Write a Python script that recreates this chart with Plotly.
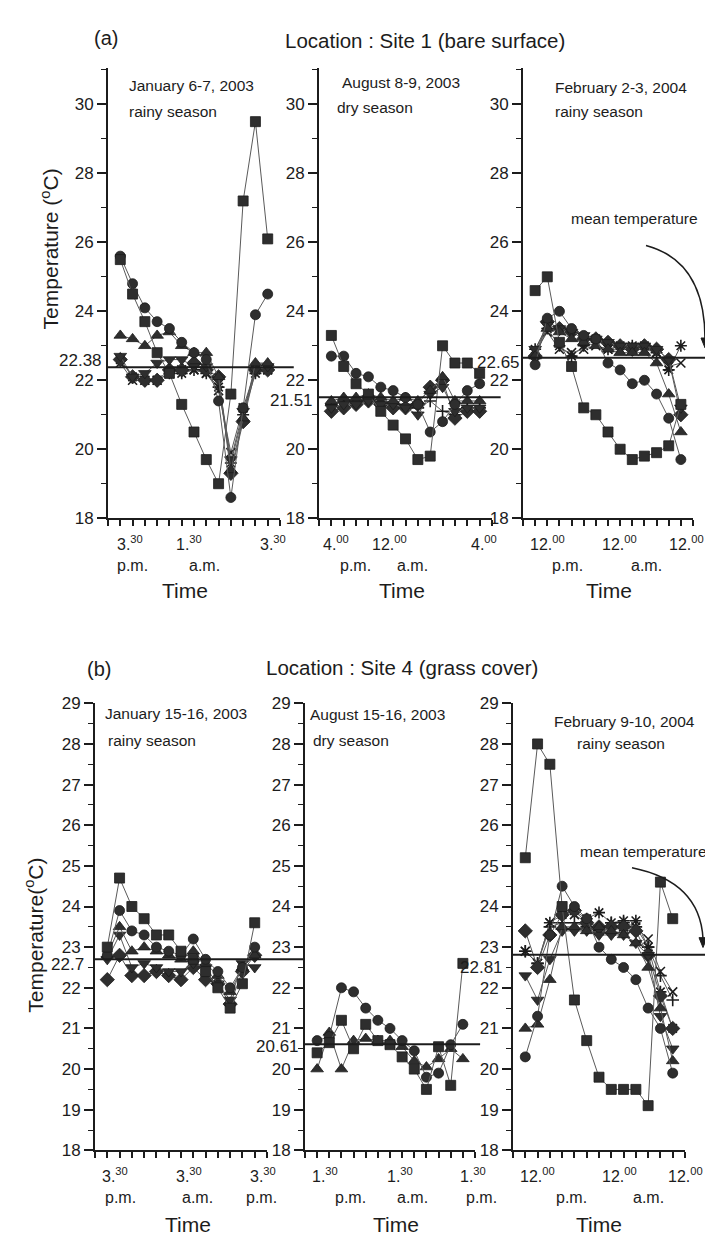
import plotly.graph_objects as go

# ---------------- data (hours after first reading, 2-h interval) ----------------
HOURS = [0, 2, 4, 6, 8, 10, 12, 14, 16, 18, 20, 22, 24]

# (a) Site 1 - January 6-7, 2003
A1_SQUARE = [25.5, 24.5, 23.7, 22.8, 22.2, 21.3, 20.5, 19.7, 19.0, 21.6, 27.2, 29.5, 26.1]
A1_CIRCLE = [25.6, 24.8, 24.1, 23.7, 23.5, 23.1, 22.8, 22.6, 21.4, 18.6, 21.2, 23.9, 24.5]
A1_TRI_UP = [23.3, 23.2, 23.0, 23.3, 23.4, 23.0, 22.8, 22.8, 22.1, 19.4, 20.9, 22.5, 22.5]
A1_TRI_DOWN = [22.7, 22.1, 22.2, 22.5, 22.6, 22.6, 22.4, 22.4, 22.0, 19.7, 21.1, 22.3, 22.4]
A1_DIAMOND = [22.6, 22.1, 22.0, 22.0, 22.3, 22.3, 22.5, 22.3, 22.1, 19.3, 20.8, 22.3, 22.3]
A1_ASTERISK = [22.6, 22.1, 22.0, 22.0, 22.2, 22.2, 22.3, 22.2, 21.8, 19.6, 21.0, 22.2, 22.3]
A1_CROSS = [22.5, 22.0, 22.0, 22.0, 22.2, 22.3, 22.3, 22.2, 21.7, 19.9, 21.2, 22.3, 22.3]
A1_MEAN = 22.38

# (a) Site 1 - August 8-9, 2003
A2_SQUARE = [23.3, 22.4, 21.9, 21.6, 21.1, 20.7, 20.3, 19.7, 19.8, 23.0, 22.5, 22.5, 22.2]
A2_CIRCLE = [22.7, 22.7, 22.2, 22.1, 21.8, 21.7, 21.5, 21.3, 20.5, 20.8, 21.3, 21.7, 21.9]
A2_TRI_UP = [21.4, 21.5, 21.5, 21.6, 21.5, 21.4, 21.5, 21.4, 21.7, 22.1, 21.4, 21.4, 21.4]
A2_TRI_DOWN = [21.2, 21.3, 21.3, 21.4, 21.3, 21.3, 21.2, 21.0, 21.6, 21.8, 21.1, 21.2, 21.2]
A2_DIAMOND = [21.1, 21.2, 21.3, 21.4, 21.3, 21.2, 21.2, 21.3, 21.8, 22.0, 20.9, 21.1, 21.1]
A2_PLUS = [21.3, 21.4, 21.4, 21.4, 21.3, 21.3, 21.3, 21.2, 21.4, 21.1, 21.0, 21.2, 21.2]
A2_MEAN = 21.51

# (a) Site 1 - February 2-3, 2004
A3_SQUARE = [24.6, 25.0, 23.1, 22.4, 21.2, 21.0, 20.5, 20.0, 19.7, 19.8, 19.9, 20.1, 21.3]
A3_CIRCLE = [22.45, 23.8, 24.0, 23.5, 23.3, 23.2, 22.5, 22.3, 21.9, 22.0, 21.6, 20.9, 19.7]
A3_TRI_UP = [22.7, 23.5, 23.4, 23.2, 23.1, 23.0, 22.9, 22.8, 22.8, 22.8, 22.5, 21.6, 20.5]
A3_TRI_DOWN = [22.9, 23.6, 23.5, 23.4, 23.3, 23.2, 23.1, 23.0, 23.0, 23.0, 22.9, 22.6, 21.2]
A3_DIAMOND = [22.7, 23.7, 23.5, 23.4, 23.2, 23.2, 23.1, 23.0, 22.9, 23.0, 22.9, 22.6, 21.0]
A3_ASTERISK = [22.9, 23.5, 23.0, 22.7, 23.0, 23.2, 22.9, 23.0, 23.0, 23.0, 22.8, 22.3, 23.0]
A3_CROSS = [22.8, 23.4, 22.9, 22.8, 22.9, 23.0, 22.9, 22.9, 22.9, 22.9, 22.8, 22.4, 22.5]
A3_MEAN = 22.65

# (b) Site 4 - January 15-16, 2003
B1_SQUARE = [23.0, 24.7, 24.0, 23.7, 23.3, 23.3, 22.9, 22.7, 22.4, 22.0, 21.5, 22.1, 23.6]
B1_CIRCLE = [22.8, 23.9, 23.4, 23.3, 23.0, 22.9, 22.8, 23.2, 22.7, 22.4, 22.0, 22.5, 23.0]
B1_TRI_UP = [22.8, 23.5, 22.9, 23.0, 22.9, 22.8, 22.7, 22.9, 22.6, 22.3, 21.9, 22.5, 22.8]
B1_TRI_DOWN = [22.7, 23.3, 22.5, 22.6, 22.5, 22.4, 22.4, 22.6, 22.5, 22.1, 21.7, 22.6, 22.5]
B1_DIAMOND = [22.2, 22.8, 22.3, 22.3, 22.4, 22.3, 22.2, 22.5, 22.2, 22.1, 21.6, 22.4, 22.8]
B1_MEAN = 22.7

# (b) Site 4 - August 15-16, 2003
B2_SQUARE = [20.4, 20.65, 21.2, 20.5, 21.1, 20.7, 20.6, 20.3, 20.0, 19.5, 20.55, 19.6, 22.6]
B2_CIRCLE = [20.7, 20.8, 22.0, 21.9, 21.5, 21.2, 21.0, 20.7, 20.45, 19.8, 19.9, 20.6, 21.1]
B2_TRI_UP = [20.0, 20.9, 20.0, 20.7, 20.75, 20.7, 20.7, 20.55, 20.2, 20.05, 20.25, 20.5, 20.25]
B2_MEAN = 20.61

# (b) Site 4 - February 9-10, 2004
B3_SQUARE = [25.2, 28.0, 27.5, 24.0, 21.7, 20.7, 19.8, 19.5, 19.5, 19.5, 19.1, 24.6, 23.7]
B3_CIRCLE = [20.3, 21.3, 23.3, 24.5, 24.0, 23.7, 23.0, 22.7, 22.5, 22.2, 21.5, 21.0, 19.9]
B3_TRI_UP = [21.0, 21.1, 22.2, 23.5, 23.5, 23.4, 23.5, 23.4, 23.3, 23.1, 22.5, 21.5, 20.2]
B3_TRI_DOWN = [22.3, 21.7, 22.7, 23.4, 23.4, 23.4, 23.3, 23.3, 23.3, 23.1, 22.8, 21.3, 20.5]
B3_DIAMOND = [23.4, 22.5, 23.3, 23.8, 23.9, 23.6, 23.5, 23.5, 23.5, 23.4, 22.8, 21.8, 21.0]
B3_ASTERISK = [22.9, 22.6, 23.6, 23.8, 23.9, 23.7, 23.85, 23.6, 23.65, 23.65, 23.0, 21.9, 21.0]
B3_CROSS = [22.9, 22.6, 23.6, 23.9, 23.8, 23.6, 23.4, 23.4, 23.5, 23.5, 23.2, 22.4, 21.9]
B3_PLUS = [22.9, 22.6, 23.5, 23.6, 23.6, 23.5, 23.4, 23.6, 23.6, 23.5, 23.0, 22.3, 21.7]
B3_MEAN = 22.81

MEAN_LABELS = ["22.38", "21.51", "22.65", "22.7", "20.61", "22.81"]
PANEL_DATES = [
    ("January 6-7, 2003", "rainy season"),
    ("August 8-9, 2003", "dry season"),
    ("February 2-3, 2004", "rainy season"),
    ("January 15-16, 2003", "rainy season"),
    ("August 15-16, 2003", "dry season"),
    ("February 9-10, 2004", "rainy season"),
]

# ---------------- styling / layout ----------------
W, H = 713, 1239
FONT = "Arial, 'Liberation Sans', Helvetica, sans-serif"
INK = "#1c1c1c"
LINE_GRAY = "#5a5a5a"
FILL = "#2e2e2e"


def fx(p):
    return p / W


def fy(p):
    return 1 - p / H


STYLE = {
    "square": dict(symbol="square", size=10),
    "circle": dict(symbol="circle", size=10),
    "triangle-up": dict(symbol="triangle-up", size=11),
    "triangle-down": dict(symbol="triangle-down", size=11),
    "diamond": dict(symbol="diamond", size=11),
    "asterisk-open": dict(symbol="asterisk-open", size=10),
    "x-thin-open": dict(symbol="x-thin-open", size=9),
    "cross-thin-open": dict(symbol="cross-thin-open", size=9),
}

PANEL_SERIES = [
    [(A1_ASTERISK, "asterisk-open"), (A1_CROSS, "x-thin-open"), (A1_DIAMOND, "diamond"),
     (A1_TRI_DOWN, "triangle-down"), (A1_TRI_UP, "triangle-up"), (A1_CIRCLE, "circle"),
     (A1_SQUARE, "square")],
    [(A2_PLUS, "cross-thin-open"), (A2_DIAMOND, "diamond"), (A2_TRI_DOWN, "triangle-down"),
     (A2_TRI_UP, "triangle-up"), (A2_CIRCLE, "circle"), (A2_SQUARE, "square")],
    [(A3_ASTERISK, "asterisk-open"), (A3_CROSS, "x-thin-open"), (A3_DIAMOND, "diamond"),
     (A3_TRI_DOWN, "triangle-down"), (A3_TRI_UP, "triangle-up"), (A3_CIRCLE, "circle"),
     (A3_SQUARE, "square")],
    [(B1_DIAMOND, "diamond"), (B1_TRI_DOWN, "triangle-down"), (B1_TRI_UP, "triangle-up"),
     (B1_CIRCLE, "circle"), (B1_SQUARE, "square")],
    [(B2_TRI_UP, "triangle-up"), (B2_CIRCLE, "circle"), (B2_SQUARE, "square")],
    [(B3_PLUS, "cross-thin-open"), (B3_CROSS, "x-thin-open"), (B3_ASTERISK, "asterisk-open"),
     (B3_DIAMOND, "diamond"), (B3_TRI_DOWN, "triangle-down"), (B3_TRI_UP, "triangle-up"),
     (B3_CIRCLE, "circle"), (B3_SQUARE, "square")],
]
MEANS = [A1_MEAN, A2_MEAN, A3_MEAN, B1_MEAN, B2_MEAN, B3_MEAN]

# geometry of each panel in pixels
PANELS = [
    dict(xd=(100, 272), yd=(52, 509), yr=[18, 31.05], dt=2, mdt=1, mean_ext=1.08, lab_r=96, lab_shift=7,
         txt=((119, 70), (119, 96))),
    dict(xd=(311, 484), yd=(52, 509), yr=[18, 31.05], dt=2, mdt=1, mean_ext=1.05, lab_r=307, lab_shift=-3,
         txt=((332, 67), (327, 92))),
    dict(xd=(515, 685), yd=(52, 509), yr=[18, 31.05], dt=2, mdt=1, mean_ext=1.11, lab_r=514, lab_shift=-5,
         txt=((545, 72), (545, 96))),
    dict(xd=(87, 259), yd=(697, 1151), yr=[18, 29], dt=1, mdt=0.5, mean_ext=1.22, lab_r=78, lab_shift=-5,
         txt=((95, 707), (98, 735))),
    dict(xd=(297, 467), yd=(697, 1151), yr=[18, 29], dt=1, mdt=0.5, mean_ext=1.03, lab_r=293, lab_shift=-2,
         txt=((300, 708), (303, 735))),
    dict(xd=(505, 677), yd=(697, 1151), yr=[18, 29], dt=1, mdt=0.5, mean_ext=1.21, lab_r=497, lab_shift=-13,
         txt=((544, 715), (567, 738))),
]

fig = go.Figure()
layout = dict(
    width=W, height=H,
    margin=dict(l=0, r=0, t=0, b=0),
    paper_bgcolor="white", plot_bgcolor="rgba(0,0,0,0)",
    showlegend=False,
    font=dict(family=FONT, color=INK, size=16),
)
annotations = []
shapes = []

for i, (p, series) in enumerate(zip(PANELS, PANEL_SERIES)):
    n = "" if i == 0 else str(i + 1)
    xa, ya = "x" + n, "y" + n
    for vals, sym in series:
        st = STYLE[sym]
        is_open = sym.endswith("open")
        fig.add_trace(go.Scatter(
            x=HOURS, y=vals, mode="lines+markers", xaxis=xa, yaxis=ya,
            line=dict(color=LINE_GRAY, width=1),
            marker=dict(symbol=st["symbol"], size=st["size"],
                        color=INK if is_open else FILL,
                        line=dict(color=INK, width=1.6 if is_open else 0.8)),
            cliponaxis=False, hoverinfo="skip",
        ))
    layout["xaxis" + n] = dict(
        domain=[fx(p["xd"][0]), fx(p["xd"][1])], anchor=ya, range=[-2, 26],
        tickmode="array", tickvals=[-2, 0, 2, 4, 6, 8, 10, 12, 14, 16, 18, 20, 22, 24, 26],
        showticklabels=False, ticks="outside", ticklen=6, tickwidth=1.5, tickcolor=INK,
        showline=True, linewidth=2, linecolor=INK, showgrid=False, zeroline=False,
    )
    layout["yaxis" + n] = dict(
        domain=[fy(p["yd"][1]), fy(p["yd"][0])], anchor=xa, range=p["yr"],
        tick0=18, dtick=p["dt"], ticks="outside", ticklen=9, tickwidth=1.5, tickcolor=INK,
        minor=dict(dtick=p["mdt"], tick0=18, ticks="outside", ticklen=5, tickwidth=1.2, tickcolor=INK),
        showline=True, linewidth=2, linecolor=INK, showgrid=False, zeroline=False,
        tickfont=dict(size=17, family=FONT, color=INK),
    )
    # mean temperature line
    shapes.append(dict(type="line", xref=xa + " domain", yref=ya, x0=0, x1=p["mean_ext"],
                       y0=MEANS[i], y1=MEANS[i], line=dict(color=INK, width=2)))
    annotations.append(dict(xref="paper", yref=ya, x=fx(p["lab_r"]), y=MEANS[i], yshift=p["lab_shift"],
                            text=MEAN_LABELS[i], showarrow=False, xanchor="right", yanchor="middle",
                            font=dict(size=17, color=INK, family=FONT)))
    # date / season text
    (t1x, t1y), (t2x, t2y) = p["txt"]
    annotations.append(dict(xref="paper", yref="paper", x=fx(t1x), y=fy(t1y), text=PANEL_DATES[i][0],
                            showarrow=False, xanchor="left", yanchor="middle",
                            font=dict(size=15.5, color=INK, family=FONT)))
    annotations.append(dict(xref="paper", yref="paper", x=fx(t2x), y=fy(t2y), text=PANEL_DATES[i][1],
                            showarrow=False, xanchor="left", yanchor="middle",
                            font=dict(size=15.5, color=INK, family=FONT)))


def label(x, y, text, size, anchor="center", angle=0):
    annotations.append(dict(xref="paper", yref="paper", x=fx(x), y=fy(y), text=text, showarrow=False,
                            xanchor=anchor, yanchor="middle", textangle=angle,
                            font=dict(size=size, color=INK, family=FONT)))


# titles
label(98, 21, "(a)", 20)
label(417, 24, "Location : Site 1 (bare surface)", 20.5)
label(91, 662, "(b)", 20)
label(394, 661, "Location : Site 4 (grass cover)", 20.5)
label(42, 236, "Temperature (<sup>o</sup>C)", 21, angle=-90)
label(26, 933, "Temperature(<sup>o</sup>C)", 21, angle=-90)

# time tick labels
TOP_TICKS = [("3.<sup>30</sup>", 122), ("1.<sup>30</sup>", 181), ("3.<sup>30</sup>", 265),
             ("4.<sup>00</sup>", 328), ("12.<sup>00</sup>", 381), ("4.<sup>00</sup>", 476),
             ("12.<sup>00</sup>", 539), ("12.<sup>00</sup>", 611), ("12.<sup>00</sup>", 678)]
for t, x in TOP_TICKS:
    label(x, 534, t, 16)
for t, x in [("p.m.", 124), ("a.m.", 196), ("p.m.", 347), ("a.m.", 404), ("p.m.", 559), ("a.m.", 638)]:
    label(x, 557, t, 16)
for x in [177, 394, 601]:
    label(x, 582, "Time", 21)

BOT_TICKS = [("3.<sup>30</sup>", 107), ("3.<sup>30</sup>", 181), ("3.<sup>30</sup>", 255),
             ("1.<sup>30</sup>", 317), ("1.<sup>30</sup>", 392), ("1.<sup>30</sup>", 465),
             ("12.<sup>00</sup>", 529), ("12.<sup>00</sup>", 611), ("12.<sup>00</sup>", 677)]
for t, x in BOT_TICKS:
    label(x, 1176, t, 16)
for t, x in [("p.m.", 112), ("a.m.", 189), ("p.m.", 253), ("p.m.", 342), ("a.m.", 404), ("p.m.", 473),
             ("p.m.", 563), ("a.m.", 640)]:
    label(x, 1199, t, 16)
for x in [180, 388, 591]:
    label(x, 1226, "Time", 21)

# "mean temperature" callouts with curved arrows
label(561, 205, "mean temperature", 15.5, anchor="left")
label(570, 847, "mean temperature", 15.5, anchor="left")


def curve(x0, y0, cx, cy, x1, y1):
    shapes.append(dict(type="path", xref="paper", yref="paper",
                       path=f"M {fx(x0)} {fy(y0)} Q {fx(cx)} {fy(cy)} {fx(x1)} {fy(y1)}",
                       line=dict(color=INK, width=1.5)))
    shapes.append(dict(type="path", xref="paper", yref="paper",
                       path=f"M {fx(x1 - 4)} {fy(y1 - 1)} L {fx(x1 + 4)} {fy(y1 - 1)} L {fx(x1)} {fy(y1 + 9)} Z",
                       fillcolor=INK, line=dict(color=INK, width=1)))


curve(638, 232, 697, 248, 697, 327)
curve(624, 864, 692, 878, 695, 936)

layout["annotations"] = annotations
layout["shapes"] = shapes
fig.update_layout(**layout)
fig.write_html("out.html")
